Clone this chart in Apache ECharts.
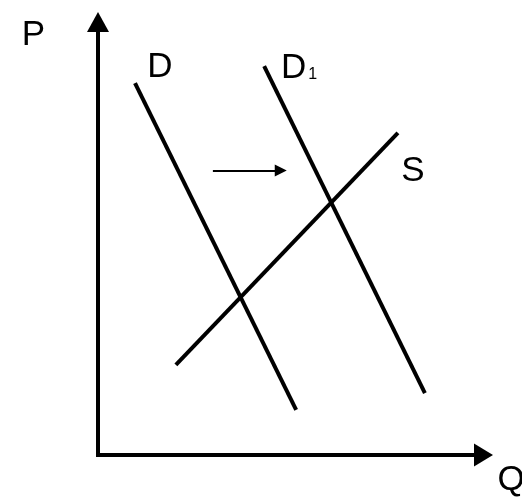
<!DOCTYPE html>
<html>
<head>
<meta charset="utf-8">
<script src="https://cdn.jsdelivr.net/npm/echarts@6/dist/echarts.min.js"></script>
<style>
html, body { margin: 0; padding: 0; background: #fff; }
#chart { width: 522px; height: 498px; }
</style>
</head>
<body>
<div id="chart"></div>
<script>
// 需求右移：D -> D1，供给 S 不变
// 各线两端点 [Q, P]，最后一个点是上端（标签挂在上端）
var demandD = [[5.14, 1.04], [0.96, 8.59]];
var demandD1 = [[8.48, 1.43], [4.31, 8.98]];
var supplyS = [[2.02, 2.08], [7.78, 7.44]];
// 移动方向的箭头
var shiftArrow = [[2.98, 6.57], [4.74, 6.57]];

var qMax = 10;
var pMax = 10;

var chart = echarts.init(document.getElementById('chart'));
var FONT = 'Liberation Sans';

function curve(name, pts, label) {
    var data = pts.map(function (p, i) {
        if (i === pts.length - 1) {
            return { value: p, label: label };
        }
        return { value: p };
    });
    return {
        name: name,
        type: 'line',
        data: data,
        symbol: 'circle',
        symbolSize: 0,
        showSymbol: true,
        silent: true,
        animation: false,
        lineStyle: { color: '#000', width: 4, cap: 'butt' },
        itemStyle: { color: '#000' }
    };
}

option = {
    backgroundColor: '#fff',
    animation: false,
    grid: {
        left: 98, right: 38.5, top: 22, bottom: 43,
        containLabel: false,
        outerBoundsMode: 'none'
    },
    xAxis: {
        type: 'value',
        min: 0,
        max: qMax,
        name: 'Q',
        nameLocation: 'end',
        nameGap: 14,
        nameTextStyle: {
            color: '#000', fontFamily: FONT, fontSize: 35,
            align: 'left', verticalAlign: 'top', padding: [8, 0, 0, 0]
        },
        axisLine: {
            show: true,
            symbol: ['none', 'triangle'],
            symbolSize: [23, 19],
            lineStyle: { color: '#000', width: 4, cap: 'square' }
        },
        axisTick: { show: false },
        axisLabel: { show: false },
        splitLine: { show: false }
    },
    yAxis: {
        type: 'value',
        min: 0,
        max: pMax,
        name: 'P',
        nameLocation: 'end',
        nameGap: 4,
        nameTextStyle: {
            color: '#000', fontFamily: FONT, fontSize: 35,
            align: 'right', verticalAlign: 'top', padding: [0, 53, 0, 0]
        },
        axisLine: {
            show: true,
            symbol: ['none', 'triangle'],
            symbolSize: [22, 20],
            lineStyle: { color: '#000', width: 4, cap: 'square' }
        },
        axisTick: { show: false },
        axisLabel: { show: false },
        splitLine: { show: false }
    },
    series: [
        curve('D', demandD, {
            show: true, position: 'inside', offset: [25, -16],
            formatter: 'D', color: '#000', fontFamily: FONT, fontSize: 35
        }),
        curve('D1', demandD1, {
            show: true, position: 'inside', offset: [35, 2],
            formatter: '{a|D}{b|1}',
            rich: {
                a: { color: '#000', fontFamily: FONT, fontSize: 35 },
                b: { color: '#000', fontFamily: FONT, fontSize: 16, padding: [13, 0, 0, 2] }
            }
        }),
        curve('S', supplyS, {
            show: true, position: 'inside', offset: [15, 38],
            formatter: 'S', color: '#000', fontFamily: FONT, fontSize: 35
        }),
        {
            type: 'lines',
            coordinateSystem: 'cartesian2d',
            silent: true,
            animation: false,
            symbol: ['none', 'triangle'],
            symbolSize: [13, 12],
            lineStyle: { color: '#000', width: 2, opacity: 1 },
            data: [{ coords: shiftArrow }]
        }
    ]
};

chart.setOption(option);
</script>
</body>
</html>
